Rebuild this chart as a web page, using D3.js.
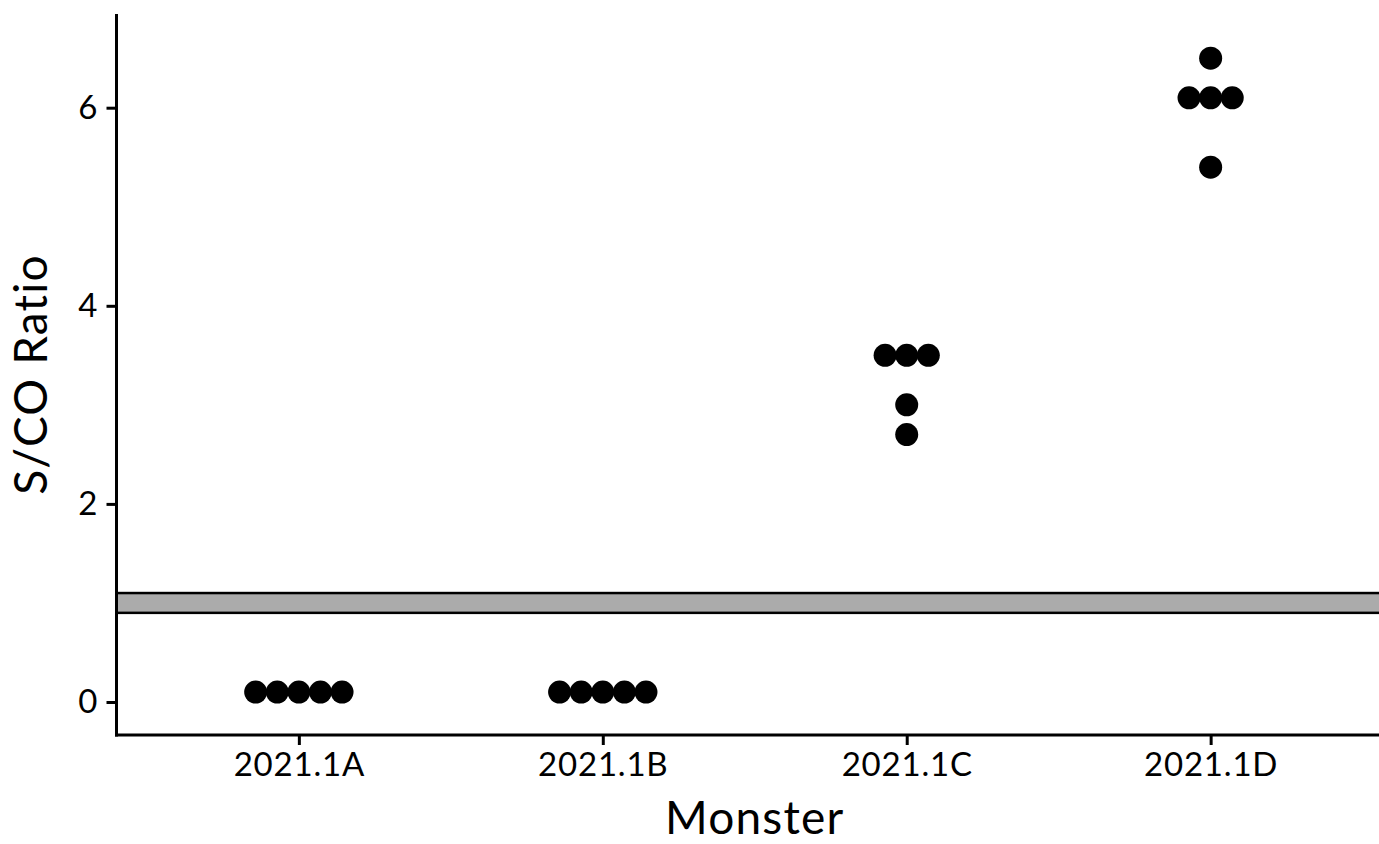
<!DOCTYPE html>
<html><head><meta charset="utf-8">
<script src="https://cdn.jsdelivr.net/npm/d3@7"></script>
<style>body{margin:0;background:#fff;overflow:hidden}text{font-family:Lato,sans-serif;fill:#000}</style>
</head><body>
<script>
const categories = ["2021.1A","2021.1B","2021.1C","2021.1D"];
const valuesA = [0.1,0.1,0.1,0.1,0.1];
const valuesB = [0.1,0.1,0.1,0.1,0.1];
const valuesC = [3.5,3.5,3.5,3.0,2.7];
const valuesD = [6.5,6.1,6.1,6.1,5.4];
const yTicks = [0,2,4,6];
const cutoffLow = 0.9, cutoffHigh = 1.1;
const xTitle = "Monster", yTitle = "S/CO Ratio";

const W = 1379, H = 844;
const svg = d3.select("body").append("svg").attr("width",W).attr("height",H);
const mLeft = 116.5, mBottom = 735, mTop = 14, mRight = 1393;
const x = d3.scalePoint().domain(categories).range([mLeft,mRight]).padding(0.6);
const y = d3.scaleLinear().domain([0,6]).range([702,107.7]);

// cutoff band
svg.append("rect").attr("x",mLeft).attr("width",W-mLeft+5)
  .attr("y",y(cutoffHigh)).attr("height",y(cutoffLow)-y(cutoffHigh))
  .attr("fill","#ababab").attr("stroke","#000").attr("stroke-width",2.5);

// dots: dotplot-like stacking (horizontal centering for equal values)
const series = [valuesA,valuesB,valuesC,valuesD];
const r = 11.5, step = 21.6;
const pts = [];
series.forEach((vals,i)=>{
  const groups = d3.groups(vals, v=>v);
  groups.forEach(([v,arr])=>{
    const n = arr.length;
    arr.forEach((_,k)=>pts.push({cat:categories[i], v, off:(k-(n-1)/2)*step}));
  });
});
svg.append("g").selectAll("circle").data(pts).join("circle")
  .attr("cx",d=>x(d.cat)+d.off).attr("cy",d=>y(d.v)).attr("r",r).attr("fill","#000");

// axes
const yAxis = d3.axisLeft(y).tickValues(yTicks).tickSize(10).tickPadding(9).tickFormat(d3.format("d"));
const gy = svg.append("g").attr("transform",`translate(${mLeft},0)`).call(yAxis);
gy.select(".domain").remove();
gy.selectAll(".tick line").attr("stroke","#000").attr("stroke-width",3);
gy.selectAll(".tick text").attr("font-size",33).attr("font-family","Lato");
svg.append("line").attr("x1",mLeft).attr("x2",mLeft).attr("y1",mTop).attr("y2",mBottom+1.5)
  .attr("stroke","#000").attr("stroke-width",3);

const xAxis = d3.axisBottom(x).tickSize(10).tickPadding(8);
const gx = svg.append("g").attr("transform",`translate(0,${mBottom})`).call(xAxis);
gx.select(".domain").remove();
gx.selectAll(".tick line").attr("stroke","#000").attr("stroke-width",3);
gx.selectAll(".tick text").attr("font-size",33).attr("font-family","Lato").attr("letter-spacing",0.8);
svg.append("line").attr("x1",mLeft-1.5).attr("x2",W+5).attr("y1",mBottom).attr("y2",mBottom)
  .attr("stroke","#000").attr("stroke-width",3);

svg.append("text").attr("x",(mLeft+mRight)/2).attr("y",834).attr("text-anchor","middle")
  .attr("font-size",46).attr("letter-spacing",1.2).text(xTitle);
svg.append("text").attr("transform",`translate(47,${(mTop+mBottom)/2}) rotate(-90)`)
  .attr("text-anchor","middle").attr("font-size",46).attr("letter-spacing",1.2).text(yTitle);
</script>
</body></html>
